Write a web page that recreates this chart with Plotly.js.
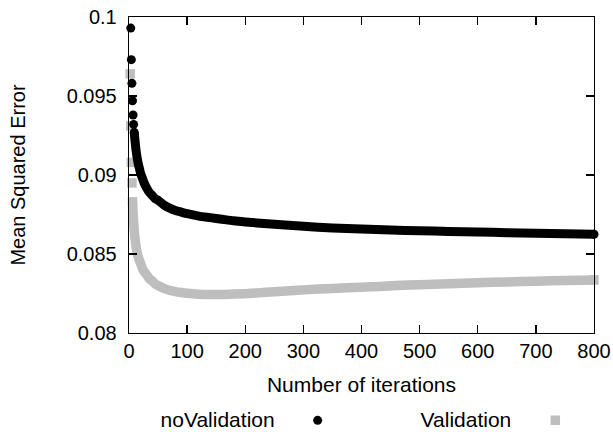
<!DOCTYPE html>
<html>
<head>
<meta charset="utf-8">
<script src="https://cdn.plot.ly/plotly-3.0.1.min.js"></script>
<style>html,body{margin:0;padding:0;background:#fff;}</style>
</head>
<body>
<div id="chart" style="width:613px;height:432px;"></div>
<script>
// noValidation: early discrete points and the dense continuous part
const noValEarlyIter = [3, 4, 5, 6, 7, 8, 9];
const noValEarlyMSE  = [0.0993, 0.0973, 0.0958, 0.0947, 0.0938, 0.0932, 0.0927];
const noValIter = [9, 10, 12, 14, 16, 18, 20, 23, 26, 30, 35, 40, 45, 50, 60, 70, 80, 90, 100,
  120, 140, 160, 180, 200, 250, 300, 350, 400, 450, 500, 550, 600, 650, 700, 750, 800];
const noValMSE = [0.0927, 0.0923, 0.0916, 0.0911, 0.0907, 0.0904, 0.0901, 0.0898, 0.0895, 0.0892,
  0.0889, 0.0887, 0.0885, 0.0884, 0.0881, 0.0879, 0.08775, 0.08765, 0.08755,
  0.0874, 0.0873, 0.0872, 0.0871, 0.08703, 0.08688, 0.08675, 0.08665, 0.08658, 0.08652,
  0.08647, 0.08643, 0.08639, 0.08635, 0.08632, 0.08628, 0.08625];

// Validation
const valEarlyIter = [2, 3, 4, 5, 6];
const valEarlyMSE  = [0.0964, 0.0931, 0.0908, 0.0895, 0.0883];
const valIter = [6, 7, 8, 9, 10, 11, 12, 14, 16, 18, 20, 24, 28, 32, 36, 40, 45, 50, 60, 70, 80, 90,
  100, 120, 140, 165, 200, 222, 250, 277, 300, 350, 400, 431, 460, 500, 550, 600, 650, 700, 750, 800];
const valMSE = [0.0883, 0.0876, 0.0870, 0.0865, 0.0861, 0.0858, 0.0855, 0.0851, 0.0848, 0.0846, 0.0844,
  0.0840, 0.0838, 0.0836, 0.0834, 0.0833, 0.0831, 0.0830, 0.08282, 0.08270, 0.08262, 0.08256,
  0.08251, 0.08245, 0.08243, 0.08244, 0.08249, 0.08254, 0.08261, 0.08268, 0.08273, 0.08282,
  0.08290, 0.08295, 0.08300, 0.08306, 0.08312, 0.08318, 0.08323, 0.08328, 0.08332, 0.08336];

const xTicks = [0, 100, 200, 300, 400, 500, 600, 700, 800];
const yTickVals = [0.08, 0.085, 0.09, 0.095, 0.1];
const yTickText = ['0.08', '0.085', '0.09', '0.095', '0.1'];

const FONT = 'Liberation Sans, Arial, Helvetica, sans-serif';
const GREY = '#bebebe';
const BLACK = '#000000';

const traces = [
  {x: valIter, y: valMSE, mode: 'lines', type: 'scatter', cliponaxis: false,
   line: {color: GREY, width: 9.5, simplify: false, shape: 'spline', smoothing: 0.7},
   showlegend: false, hoverinfo: 'skip'},
  {x: valIter.slice(-1), y: valMSE.slice(-1), mode: 'markers', type: 'scatter', cliponaxis: false,
   marker: {symbol: 'square', size: 9.5, color: GREY}, showlegend: false, hoverinfo: 'skip'},
  {x: valEarlyIter, y: valEarlyMSE, mode: 'markers', type: 'scatter', cliponaxis: false,
   marker: {symbol: 'square', size: 9.5, color: GREY}, name: '', legend: 'legend2'},
  {x: noValIter, y: noValMSE, mode: 'lines', type: 'scatter', cliponaxis: false,
   line: {color: BLACK, width: 9, simplify: false, shape: 'spline', smoothing: 0.7},
   showlegend: false, hoverinfo: 'skip'},
  {x: noValIter.slice(-1), y: noValMSE.slice(-1), mode: 'markers', type: 'scatter', cliponaxis: false,
   marker: {symbol: 'circle', size: 9, color: BLACK}, showlegend: false, hoverinfo: 'skip'},
  {x: noValEarlyIter, y: noValEarlyMSE, mode: 'markers', type: 'scatter', cliponaxis: false,
   marker: {symbol: 'circle', size: 9, color: BLACK}, name: '', legend: 'legend'}
];

const axisCommon = {
  showgrid: false, zeroline: false, showline: true, linecolor: '#000', linewidth: 1.3,
  ticks: 'inside', ticklen: 8, tickwidth: 1.3, tickcolor: '#000', mirror: 'ticks',
  tickfont: {family: FONT, size: 20, color: '#000'}
};

const layout = {
  width: 613, height: 432,
  margin: {l: 129, r: 19, t: 17, b: 99, autoexpand: false},
  paper_bgcolor: '#fff', plot_bgcolor: '#fff',
  font: {family: FONT, size: 20, color: '#000'},
  xaxis: Object.assign({}, axisCommon, {
    range: [0, 800], tickvals: xTicks, ticklabelstandoff: 0,
    title: {text: 'Number of iterations', font: {family: FONT, size: 21}, standoff: 16}
  }),
  yaxis: Object.assign({}, axisCommon, {
    range: [0.08, 0.1], tickvals: yTickVals, ticktext: yTickText, ticklabelstandoff: 7,
    title: {text: 'Mean Squared Error', font: {family: FONT, size: 20}, standoff: 35}
  }),
  legend: {
    orientation: 'h', x: 0.0637, xanchor: 'left', y: -0.2775, yanchor: 'middle',
    bgcolor: 'rgba(0,0,0,0)', borderwidth: 0, indentation: 15,
    title: {text: 'noValidation', side: 'left', font: {family: FONT, size: 21}},
    font: {family: FONT, size: 21}
  },
  legend2: {
    orientation: 'h', x: 0.6228, xanchor: 'left', y: -0.2775, yanchor: 'middle',
    bgcolor: 'rgba(0,0,0,0)', borderwidth: 0, indentation: 16,
    title: {text: 'Validation', side: 'left', font: {family: FONT, size: 21}},
    font: {family: FONT, size: 21}
  },
  showlegend: true
};

Plotly.newPlot('chart', traces, layout, {displayModeBar: false, staticPlot: true});
</script>
</body>
</html>
